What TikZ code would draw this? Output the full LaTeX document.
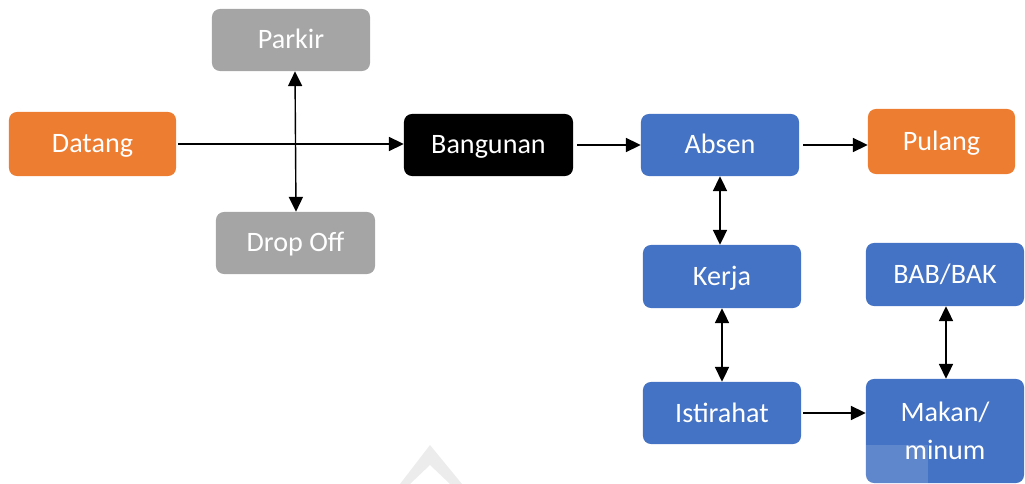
\documentclass[tikz,border=0pt]{standalone}
\usepackage{fontspec}
\setmainfont{Carlito}
\usetikzlibrary{arrows.meta}
\definecolor{accorange}{HTML}{ED7D31}
\definecolor{accblue}{HTML}{4472C4}
\definecolor{accgray}{HTML}{A5A5A5}
\definecolor{markgray}{HTML}{ECECEC}
\tikzset{
  box/.style={rounded corners=0.2cm, text=white, inner sep=0pt, align=center,
    font=\fontsize{20}{27}\selectfont, minimum width=3.95cm, minimum height=1.55cm},
  oneline/.style={text height=17pt, text depth=4.2pt},
  orangebox/.style={box, oneline, fill=accorange},
  bluebox/.style={box, oneline, fill=accblue},
  graybox/.style={box, oneline, fill=accgray},
  blackbox/.style={box, oneline, fill=black},
  bluetall/.style={box, fill=accblue},
  link/.style={line width=1pt, -{Triangle[length=10.5pt,width=10pt]}},
  dlink/.style={line width=1pt, {Triangle[length=10.5pt,width=10pt]}-{Triangle[length=10.5pt,width=10pt]}}
}
\begin{document}
\begin{tikzpicture}[x=0.025cm, y=-0.025cm]
\useasboundingbox (0,0) rectangle (1025,484);

% faint mark at the lower edge
\fill[markgray, even odd rule] (400,484) -- (430,445) -- (462,484) -- cycle
      (410,484) -- (430,465) -- (450,484) -- cycle;

% boxes
\node[graybox]  (parkir)   at (291,40)    {Parkir};
\node[graybox, minimum width=3.975cm]  (dropoff)  at (295.5,243) {Drop Off};
\node[orangebox, minimum width=4.175cm, minimum height=1.6cm] (datang) at (92.5,144) {Datang};
\node[blackbox, minimum width=4.225cm] (bangunan) at (488.5,145) {Bangunan};
\node[bluebox]  (absen)    at (720,145)   {Absen};
\node[orangebox, minimum width=3.675cm, minimum height=1.625cm] (pulang) at (941.5,141.5) {Pulang};
\node[bluebox, minimum height=1.575cm]  (kerja)    at (722,276.5) {Kerja};
\node[bluebox, minimum height=1.575cm]  (babbak)   at (945,274.5) {BAB/BAK};
\node[bluebox]  (istirahat) at (722,413)  {Istirahat};
\node[bluetall, minimum height=2.6cm] (makan) at (945,431) {Makan/\\minum};

% lighter patch on the lower corner of the meal box
\begin{scope}
  \clip[rounded corners=0.2cm] (makan.south west) rectangle (makan.north east);
  \fill[white, opacity=0.15] (866,445) rectangle (928,484);
\end{scope}

% connectors
\draw[link] ([xshift=0.05cm]datang.east) -- (datang.east -| bangunan.west);
\draw[dlink] ([xshift=0.1cm]parkir.south) -- ([xshift=0.0125cm]dropoff.north);
\draw[link] ([xshift=0.1cm]bangunan.east) -- (absen.west);
\draw[link] ([xshift=0.1cm]absen.east) -- (absen.east -| pulang.west);
\draw[dlink] (absen.south) -- (absen.south |- kerja.north);
\draw[dlink] (kerja.south) -- (istirahat.north);
\draw[link] ([xshift=0.05cm]istirahat.east) -- (istirahat.east -| makan.west);
\draw[dlink] ([xshift=0.025cm]babbak.south) -- ([xshift=0.025cm]makan.north);
\end{tikzpicture}
\end{document}
